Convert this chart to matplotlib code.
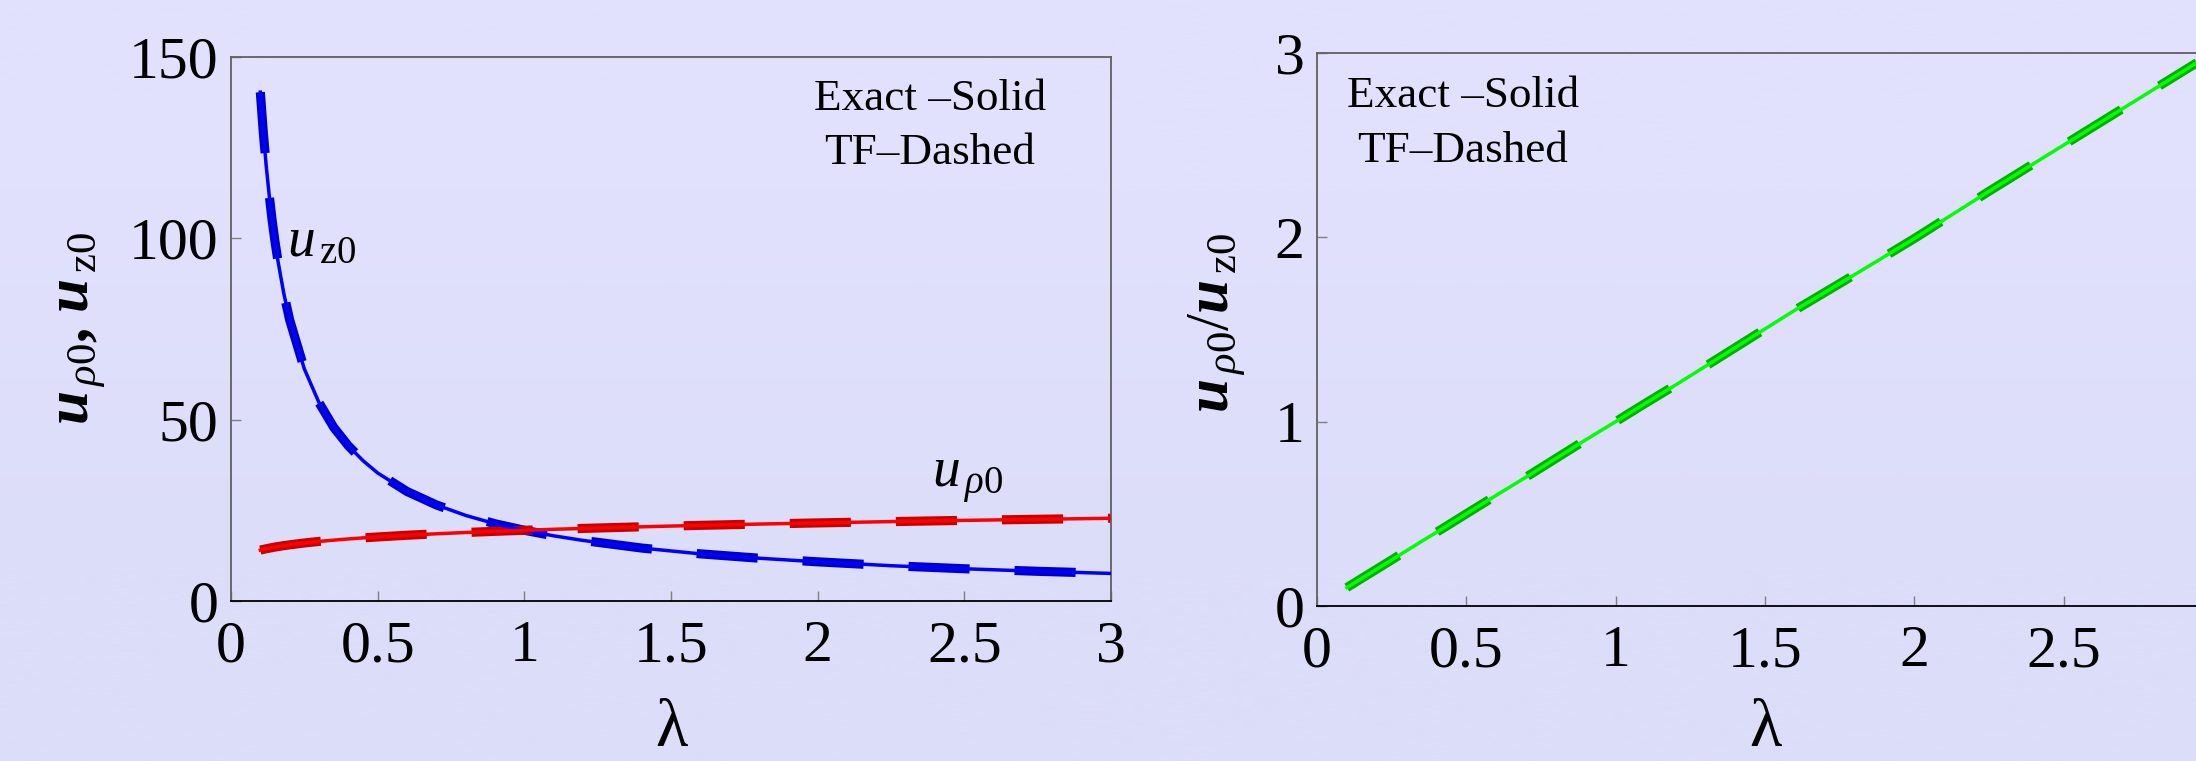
import matplotlib
matplotlib.use("Agg")
import matplotlib.pyplot as plt
import numpy as np

# values (exact and TF curves coincide at this scale)
lam = [0.10, 0.11, 0.12, 0.13, 0.14, 0.15, 0.16, 0.18, 0.20, 0.25, 0.30, 0.35,
       0.40, 0.45, 0.50, 0.60, 0.70, 0.80, 0.90, 1.00, 1.10, 1.20, 1.40, 1.60,
       1.80, 2.00, 2.25, 2.50, 2.75, 3.00]
u_rho0 = [14.03, 14.23, 14.40, 14.57, 14.72, 14.87, 15.01, 15.26, 15.49, 16.00,
          16.42, 16.78, 17.11, 17.40, 17.66, 18.13, 18.53, 18.89, 19.21, 19.50,
          19.77, 20.01, 20.46, 20.86, 21.21, 21.53, 21.89, 22.23, 22.53, 22.81]
u_z0 = [140.3, 129.3, 120.0, 112.1, 105.1, 99.1, 93.8, 84.8, 77.5, 64.0,
        54.7, 47.9, 42.8, 38.7, 35.3, 30.2, 26.5, 23.6, 21.3, 19.5,
        17.97, 16.7, 14.6, 13.0, 11.8, 10.8, 9.73, 8.89, 8.19, 7.60]
ratio = [r / z for r, z in zip(u_rho0, u_z0)]

x_ticks = [0, 0.5, 1, 1.5, 2, 2.5, 3]
xL_ticklabels = ["0", "0.5", "1", "1.5", "2", "2.5", "3"]
xR_ticklabels = ["0", "0.5", "1", "1.5", "2", "2.5", ""]   # "3" falls off the page
yL_ticks = [0, 50, 100, 150]
yR_ticks = [0, 1, 2, 3]

plt.rcParams.update({
    "font.family": "Liberation Serif",
    "mathtext.fontset": "custom",
    "mathtext.rm": "Liberation Serif",
    "mathtext.it": "Liberation Serif:italic",
    "mathtext.bf": "Liberation Serif:bold",
    "mathtext.bfit": "Liberation Serif:italic:bold",
    "lines.scale_dashes": False,
})

W, H = 2196, 761
BG = "#e0e0fd"
DASH = (44.0, 32.4)
LW_DASH, LW_SOLID = 6.6, 2.5


def px(x0, y0, x1, y1):
    # pixel box (top-left origin) -> figure fraction rect
    return [x0 / W, 1 - y1 / H, (x1 - x0) / W, (y1 - y0) / H]


fig = plt.figure(figsize=(W / 100, H / 100), dpi=100)
fig.patch.set_facecolor(BG)

# subtle vertical background shading
bg = fig.add_axes([0, 0, 1, 1], zorder=-10)
grad = np.array([[[225, 225, 254]], [[220, 221, 249]]], dtype=float) / 255
bg.imshow(grad, aspect="auto", extent=[0, 1, 0, 1], interpolation="bilinear")
bg.axis("off")

axL = fig.add_axes(px(231, 57, 1111, 601))
axR = fig.add_axes(px(1317, 53, 2213, 606))


def style(ax, yticks, xlabels):
    ax.set_facecolor("none")
    ax.set_xlim(0, 3)
    ax.set_xticks(x_ticks)
    ax.set_xticklabels(xlabels)
    ax.set_yticks(yticks)
    ax.tick_params(direction="in", length=7.5, width=1.0, color="#808080",
                   labelsize=43, labelcolor="black")
    ax.tick_params(axis="x", pad=14)
    ax.tick_params(axis="y", pad=9)
    for side in ["top", "right", "left"]:
        ax.spines[side].set_color("#606060")
        ax.spines[side].set_linewidth(1.3)
    ax.spines["bottom"].set_color("black")
    ax.spines["bottom"].set_linewidth(1.3)


# left panel: TF dashed underneath, exact solid on top
axL.plot(lam, u_z0, color="#0000c8", lw=LW_DASH, dashes=DASH, dash_capstyle="butt", zorder=2)
axL.plot(lam, u_rho0, color="#c80000", lw=LW_DASH, dashes=DASH, dash_capstyle="butt", zorder=2)
axL.plot(lam, u_z0, color="#0000ff", lw=LW_SOLID, zorder=3)
axL.plot(lam, u_rho0, color="#ff0000", lw=LW_SOLID, zorder=3)
style(axL, yL_ticks, xL_ticklabels)
axL.set_ylim(0, 150)
axL.text(0.19, 95, r"$u_{\,\mathrm{z0}}$", fontsize=40, va="baseline", ha="left")
axL.text(2.39, 31.4, r"$u_{\,\rho\mathrm{0}}$", fontsize=40, va="baseline", ha="left")

# right panel
axR.plot(lam, ratio, color="#00b000", lw=LW_DASH, dashes=DASH, dash_capstyle="butt",
         zorder=2, clip_on=False)
axR.plot(lam, ratio, color="#00ff00", lw=LW_SOLID, zorder=3, clip_on=False)
style(axR, yR_ticks, xR_ticklabels)
axR.set_ylim(0, 3)

# legend-like notes
for cx, y1, y2 in [(930, 110, 164), (1463, 107, 162)]:
    fig.text(cx / W, 1 - y1 / H, "Exact \u2013Solid", fontsize=32.5,
             ha="center", va="baseline")
    fig.text(cx / W, 1 - y2 / H, "TF\u2013Dashed", fontsize=32.5,
             ha="center", va="baseline")

# axis labels
for cx in [671, 1765]:
    fig.text(cx / W, 0.5 / H, "\u03bb", fontsize=48, ha="center", va="bottom")
fig.text(80 / W, 1 - 328 / H, r"$\mathbfit{u}_{\,\rho\mathrm{0}}\mathbf{,}\ \mathbfit{u}_{\,\mathrm{z0}}$",
         fontsize=44, rotation=90, ha="center", va="center")
fig.text(1217 / W, 1 - 323 / H, r"$\mathbfit{u}_{\,\rho\mathrm{0}}/\mathbfit{u}_{\,\mathrm{z0}}$",
         fontsize=44, rotation=90, ha="center", va="center")

fig.savefig("out.png", dpi=100, facecolor=fig.get_facecolor())
